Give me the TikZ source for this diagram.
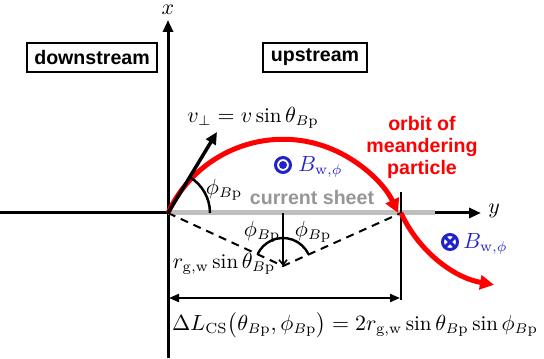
\documentclass[tikz,border=0pt]{standalone}
\usepackage{amsmath,amssymb}
\usepackage{fontspec}
\setsansfont{Liberation Sans}
\usepackage{xcolor}
\usepackage{tikz}
\usetikzlibrary{arrows.meta}
\definecolor{vermelho}{RGB}{255,0,0}
\definecolor{azulcampo}{RGB}{34,34,204}
\definecolor{cinzafolha}{RGB}{191,191,191}
\definecolor{cinzatexto}{RGB}{150,150,150}
\tikzset{
  caixa/.style={rectangle,draw=black,line width=1pt,inner sep=0pt,minimum height=14.5pt,
    font=\sffamily\bfseries\fontsize{9.8}{12}\selectfont},
  eixo/.style={-{Triangle[length=6pt,width=5pt]},line width=1.5pt},
  orbita/.style={-{Triangle[length=7pt,width=7pt]},line width=2.5pt,vermelho},
  seta/.style={-{Triangle[length=6pt,width=5.5pt]},line width=1.75pt},
  cota/.style={{Triangle[length=5pt,width=4pt]}-{Triangle[length=5pt,width=4pt]},line width=1pt},
  tracejada/.style={line width=1pt,dash pattern=on 4pt off 3pt},
  rotulo/.style={inner sep=1pt,font=\fontsize{10.5}{13}\selectfont},
  texto/.style={inner sep=1pt,align=center,font=\sffamily\bfseries\fontsize{9.8}{11}\selectfont}
}
\begin{document}
\begin{tikzpicture}[x=0.5pt,y=0.5pt]
\useasboundingbox (0,0) rectangle (544,358);
% pontos principais
\coordinate (O) at (168,145);
\coordinate (E) at (401,145);
\coordinate (C) at (283,92);
\coordinate (M) at (283,145);
\coordinate (S) at (435,145);
\coordinate (V) at (217,226);
\coordinate (xbase) at (168,0);
\coordinate (xtopo) at (168,338);
\coordinate (yini) at (0,145);
\coordinate (yfim) at (481,145);
\coordinate (Etopo) at (401,166);
\coordinate (Ebase) at (401,58);
\coordinate (cotaA) at (169,60);
\coordinate (cotaB) at (400,60);
\coordinate (Bfora) at (283,193);
\coordinate (Bdentro) at (450,116);
% eixos
\draw[eixo] (xbase) -- (xtopo);
\draw[eixo] (yini) -- (yfim);
\node[rotulo] (rx) at (168,348) {$x$};
\node[rotulo] (ry) at (494,147) {$y$};
% folha de corrente
\draw[cinzafolha,line width=2.5pt] (O) -- (S);
\node[texto,text=cinzatexto] (folha) at (312,161) {current sheet};
% regioes
\node[caixa,minimum width=65pt] (jusante) at (92,300.5) {downstream};
\node[caixa,minimum width=52pt] (montante) at (315,300.5) {upstream};
% geometria
\draw[tracejada] (O) -- (C) -- (E);
\draw[-{Straight Barb[length=2.5pt,width=4pt]},line width=0.8pt] (M) -- (C);
\draw[line width=1.2pt] (C) ++(25:28) arc[start angle=25,end angle=155,radius=28];
\node[rotulo] (phiE) at (262,126) {$\phi_{B\mathrm{p}}$};
\node[rotulo] (phiD) at (313,126) {$\phi_{B\mathrm{p}}$};
\node[rotulo] (raio) at (224,94) {$r_{\mathrm{g,w}}\sin\theta_{B\mathrm{p}}$};
\draw[line width=1pt] (Etopo) -- (Ebase);
\draw[cota] (cotaA) -- (cotaB);
\node[rotulo] (dL) at (355,33)
  {$\Delta L_{\mathrm{CS}}\bigl(\theta_{B\mathrm{p}},\phi_{B\mathrm{p}}\bigr)
   = 2r_{\mathrm{g,w}}\sin\theta_{B\mathrm{p}}\sin\phi_{B\mathrm{p}}$};
% orbita
\draw[orbita] (O) arc[start angle=155.3,end angle=24.7,radius=126.6];
\draw[orbita] (E) arc[start angle=204.7,end angle=260,radius=126.6];
\node[texto,text=vermelho] (orb) at (422,211) {orbit of\\meandering\\particle};
% velocidade
\draw[seta] (O) -- (V);
\draw[line width=1.25pt] (O) ++(42,0) arc[start angle=0,end angle=59,radius=42];
\node[rotulo] (phiV) at (224,168) {$\phi_{B\mathrm{p}}$};
\node[rotulo] (vperp) at (253,240) {$v_\perp = v\sin\theta_{B\mathrm{p}}$};
% campo da onda
\draw[azulcampo,line width=1.5pt] (Bfora) circle[radius=7.5];
\fill[azulcampo] (Bfora) circle[radius=4];
\node[rotulo,text=azulcampo,anchor=west] (Bw1) at (296,191) {$B_{\mathrm{w},\phi}$};
\draw[azulcampo,line width=1.5pt] (Bdentro) circle[radius=7.5]
  (Bdentro) +(45:7.5) -- +(225:7.5) (Bdentro) +(135:7.5) -- +(315:7.5);
\node[rotulo,text=azulcampo,anchor=west] (Bw2) at (461,114) {$B_{\mathrm{w},\phi}$};
\end{tikzpicture}
\end{document}
